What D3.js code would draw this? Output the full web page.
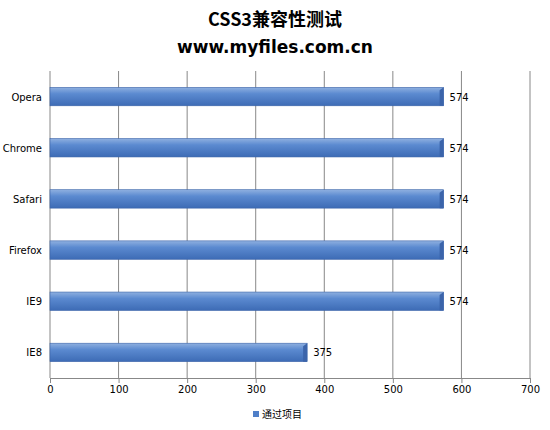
<!DOCTYPE html><html><head><meta charset="utf-8"><script src="https://cdn.jsdelivr.net/npm/d3@7"></script>
<style>body{margin:0;background:#fff}</style></head><body><script>
const categories=["Opera","Chrome","Safari","Firefox","IE9","IE8"];
const values=[574,574,574,574,574,375];
const ticks=[0,100,200,300,400,500,600,700];
const W=550,H=430;
const svg=d3.select("body").append("svg").attr("width",W).attr("height",H);
const defs=svg.append("defs");
const g=defs.append("linearGradient").attr("id","bg").attr("x1",0).attr("y1",0).attr("x2",0).attr("y2",1);
g.append("stop").attr("offset","0").attr("stop-color","#8fb0e0");
g.append("stop").attr("offset","0.35").attr("stop-color","#5b8ad0");
g.append("stop").attr("offset","1").attr("stop-color","#3d6bb5");
const x=d3.scaleLinear().domain([0,700]).range([50,530]);
const y=d3.scaleBand().domain(categories).range([71,378]).paddingInner(0.64).paddingOuter(0.32);
svg.append("text").attr("x",W/2).attr("y",26).attr("text-anchor","middle").attr("font-family","Noto Sans CJK SC").attr("font-weight","bold").attr("font-size",18).text("CSS3兼容性测试");
svg.append("text").attr("x",W/2).attr("y",53).attr("text-anchor","middle").attr("font-family","DejaVu Sans").attr("font-weight","bold").attr("font-size",17).text("www.myfiles.com.cn");
svg.selectAll(".gl").data(ticks.slice(1)).enter().append("line").attr("x1",d=>x(d)).attr("x2",d=>x(d)).attr("y1",71).attr("y2",378).attr("stroke","#888");
svg.append("line").attr("x1",50).attr("x2",50).attr("y1",71).attr("y2",378).attr("stroke","#888");
const ax=svg.append("g").attr("transform","translate(0,378)").call(d3.axisBottom(x).tickValues(ticks).tickSize(5).tickSizeOuter(0));
ax.selectAll("text").attr("font-family","DejaVu Sans").attr("font-size",10).attr("fill","#000");
ax.selectAll("line,path").attr("stroke","#888");
const bh=y.bandwidth();
const bars=svg.selectAll(".b").data(categories).enter().append("g");
bars.append("rect").attr("x",x(0)).attr("y",d=>y(d)).attr("width",(d,i)=>x(values[i])-x(0)).attr("height",bh).attr("fill","url(#bg)").attr("stroke","#3a63a8").attr("stroke-width",0.6);
bars.append("path").attr("d",(d,i)=>{const xe=x(values[i]),t=y(d);return `M${xe},${t}L${xe-4},${t+3}L${xe-4},${t+bh}L${xe},${t+bh}Z`;}).attr("fill","#3b64aa");
bars.append("text").attr("x",(d,i)=>x(values[i])+6).attr("y",d=>y(d)+bh/2+4).attr("font-family","DejaVu Sans").attr("font-size",10).text((d,i)=>values[i]);
bars.append("text").attr("x",42).attr("y",d=>y(d)+bh/2+4).attr("text-anchor","end").attr("font-family","DejaVu Sans").attr("font-size",10).text(d=>d);
svg.append("rect").attr("x",253).attr("y",411).attr("width",6).attr("height",6).attr("fill","#4f7fc8");
svg.append("text").attr("x",262).attr("y",418).attr("font-family","Noto Sans CJK SC").attr("font-size",10).text("通过项目");
</script></body></html>
